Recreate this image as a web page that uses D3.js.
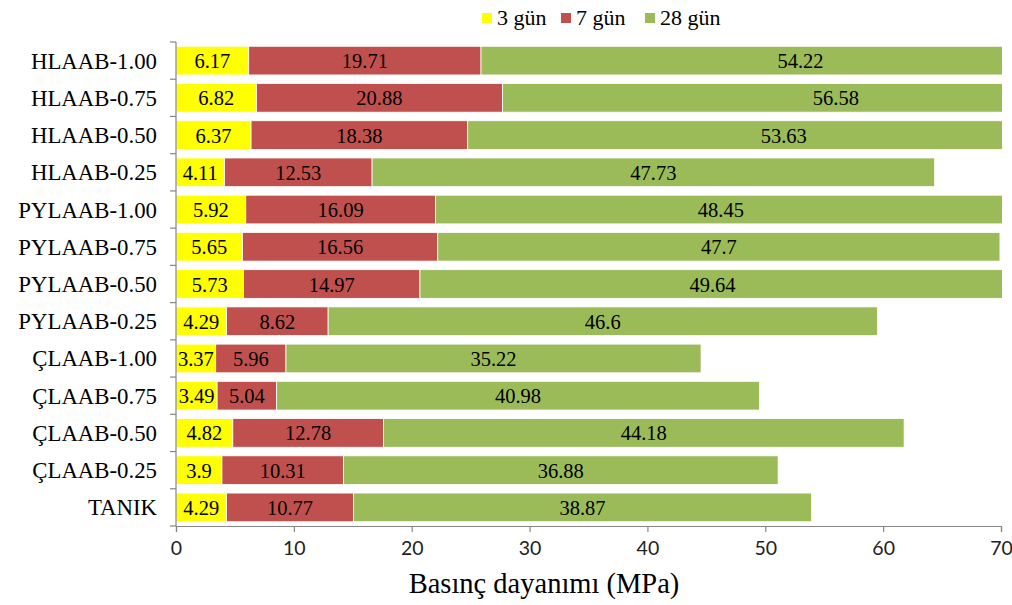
<!DOCTYPE html>
<html><head><meta charset="utf-8">
<script src="https://cdn.jsdelivr.net/npm/d3@7"></script>
<style>body{margin:0;background:#fff}svg{display:block}</style>
</head><body>
<svg id="c" width="1012" height="605"></svg>
<script>
const categories = ["HLAAB-1.00","HLAAB-0.75","HLAAB-0.50","HLAAB-0.25","PYLAAB-1.00","PYLAAB-0.75","PYLAAB-0.50","PYLAAB-0.25","ÇLAAB-1.00","ÇLAAB-0.75","ÇLAAB-0.50","ÇLAAB-0.25","TANIK"];
const seriesNames = ["3 gün","7 gün","28 gün"];
const day3 = [6.17,6.82,6.37,4.11,5.92,5.65,5.73,4.29,3.37,3.49,4.82,3.9,4.29];
const day7 = [19.71,20.88,18.38,12.53,16.09,16.56,14.97,8.62,5.96,5.04,12.78,10.31,10.77];
const day28 = [54.22,56.58,53.63,47.73,48.45,47.7,49.64,46.6,35.22,40.98,44.18,36.88,38.87];
const xTicks = [0,10,20,30,40,50,60,70];
const colors = ["#FFFF00","#C0504D","#9BBB59"];

const SERIF = '"Liberation Serif"';
const SANS = '"Lato"';
const svg = d3.select("#c");
const L = 176, R = 1001, T = 42, B = 526;
const x = d3.scaleLinear().domain([0,70]).range([L,R]);
const y = d3.scaleBand().domain(categories).range([T,B]).paddingInner(0.23).paddingOuter(0.115);

const rows = categories.map((c,i)=>({cat:c, "3 gün":day3[i], "7 gün":day7[i], "28 gün":day28[i]}));
const stack = d3.stack().keys(seriesNames)(rows);

svg.append("clipPath").attr("id","clip").append("rect").attr("x",L).attr("y",0).attr("width",R-L+1).attr("height",605);

const g = svg.append("g").attr("clip-path","url(#clip)");
stack.forEach((s,si)=>{
  g.selectAll(null).data(s).enter().append("rect")
    .attr("x",d=>x(d[0])).attr("y",d=>y(d.data.cat))
    .attr("width",d=>x(d[1])-x(d[0])).attr("height",y.bandwidth())
    .attr("fill",colors[si]).attr("stroke","#fff").attr("stroke-width",0.8);
});
stack.forEach((s,si)=>{
  svg.selectAll(null).data(s).enter().append("text")
    .style("font-family",SERIF).style("font-size","20.5px")
    .attr("x",d=>x((d[0]+d[1])/2)).attr("y",d=>y(d.data.cat)+y.bandwidth()/2+7.5)
    .attr("text-anchor","middle").attr("fill","#000")
    .text(d=>String(d.data[s.key]));
});

// y axis
const yAxis = svg.append("g");
yAxis.append("line").attr("x1",L).attr("x2",L).attr("y1",T).attr("y2",B).attr("stroke","#868686").attr("stroke-width",1.2);
d3.range(categories.length+1).forEach(i=>{
  const yy = T + i*(B-T)/categories.length;
  yAxis.append("line").attr("x1",L-6).attr("x2",L).attr("y1",yy).attr("y2",yy).attr("stroke","#868686").attr("stroke-width",1.2);
});
yAxis.selectAll(null).data(categories).enter().append("text")
  .style("font-family",SERIF).style("font-size","22.8px")
  .attr("x",157).attr("y",d=>y(d)+y.bandwidth()/2+8)
  .attr("text-anchor","end").attr("fill","#000").text(d=>d);

// x axis
const xAxis = svg.append("g").attr("transform",`translate(0,${B})`)
  .call(d3.axisBottom(x).tickValues(xTicks).tickSize(6).tickPadding(9).tickFormat(d3.format("d")));
xAxis.select(".domain").attr("stroke","#868686").attr("stroke-width",1.2);
xAxis.selectAll(".tick line").attr("stroke","#868686").attr("stroke-width",1.2);
xAxis.selectAll(".tick text").style("font-family",SANS).style("font-size","19.5px").attr("fill","#222");

svg.append("text").style("font-family",SERIF).style("font-size","28.5px")
  .attr("x",544).attr("y",593).attr("text-anchor","middle").text("Basınç dayanımı (MPa)");

// legend
const legX = [482,561,645];
const leg = svg.append("g");
seriesNames.forEach((n,i)=>{
  leg.append("rect").attr("x",legX[i]).attr("y",13).attr("width",10).attr("height",10).attr("fill",colors[i]);
  leg.append("text").style("font-family",SERIF).style("font-size","22px")
    .attr("x",legX[i]+15).attr("y",25).text(n);
});
</script>
</body></html>
